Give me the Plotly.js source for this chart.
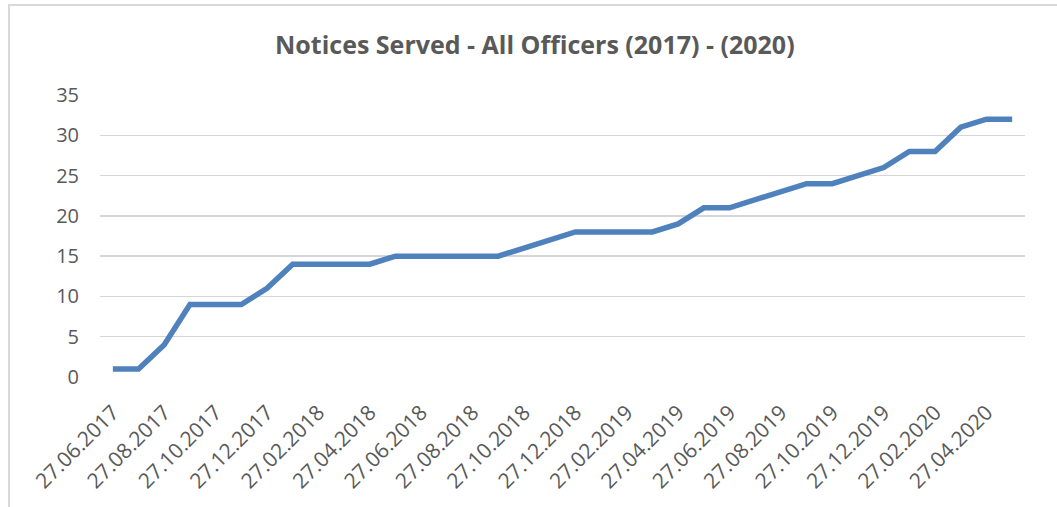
<!DOCTYPE html>
<html>
<head>
<meta charset="utf-8">
<script src="https://cdn.plot.ly/plotly-3.0.1.min.js"></script>
<style>
  html, body { margin: 0; padding: 0; width: 1057px; height: 507px; overflow: hidden; background: #fff; }
  #frame { position: absolute; left: 8px; top: 4px; width: 1200px; height: 700px;
           border-top: 2px solid #d9d9d9; border-left: 2px solid #d9d9d9; }
  #chart { position: absolute; left: 0; top: 0; width: 1057px; height: 507px; }
</style>
</head>
<body>
<div id="frame"></div>
<div id="chart"></div>
<script>
const categories = [
  "27.06.2017","27.07.2017","27.08.2017","27.09.2017","27.10.2017","27.11.2017",
  "27.12.2017","27.01.2018","27.02.2018","27.03.2018","27.04.2018","27.05.2018",
  "27.06.2018","27.07.2018","27.08.2018","27.09.2018","27.10.2018","27.11.2018",
  "27.12.2018","27.01.2019","27.02.2019","27.03.2019","27.04.2019","27.05.2019",
  "27.06.2019","27.07.2019","27.08.2019","27.09.2019","27.10.2019","27.11.2019",
  "27.12.2019","27.01.2020","27.02.2020","27.03.2020","27.04.2020","27.05.2020"
];
const noticesServed = [
  1, 1, 4, 9, 9, 9,
  11, 14, 14, 14, 14, 15,
  15, 15, 15, 15, 16, 17,
  18, 18, 18, 18, 19, 21,
  21, 22, 23, 24, 24, 25,
  26, 28, 28, 31, 32, 32
];
const tickLabels = [
  "27.06.2017","27.08.2017","27.10.2017","27.12.2017","27.02.2018","27.04.2018",
  "27.06.2018","27.08.2018","27.10.2018","27.12.2018","27.02.2019","27.04.2019",
  "27.06.2019","27.08.2019","27.10.2019","27.12.2019","27.02.2020","27.04.2020"
];
const yTicks = [0, 5, 10, 15, 20, 25, 30, 35];

const trace = {
  x: categories,
  y: noticesServed,
  type: "scatter",
  mode: "lines",
  line: { color: "#4f81bd", width: 5.5, shape: "linear" },
  hoverinfo: "x+y"
};

const layout = {
  width: 1057,
  height: 507,
  paper_bgcolor: "rgba(0,0,0,0)",
  plot_bgcolor: "rgba(0,0,0,0)",
  margin: { l: 100, r: 32, t: 95, b: 130 },
  showlegend: false,
  title: {
    text: "<b>Notices Served - All Officers (2017) - (2020)</b>",
    font: { family: "Open Sans, sans-serif", size: 25, color: "#595959" },
    x: 0.506, xanchor: "center",
    y: 0.91, yanchor: "middle"
  },
  xaxis: {
    type: "category",
    categoryorder: "array",
    categoryarray: categories,
    range: [-0.5, 35.5],
    tickmode: "array",
    tickvals: tickLabels,
    ticktext: tickLabels,
    tickangle: -45,
    ticks: "",
    showgrid: false,
    showline: false,
    zeroline: false,
    ticklabelstandoff: 18,
    tickfont: { family: "Open Sans, sans-serif", size: 21, color: "#595959" }
  },
  yaxis: {
    range: [0, 35],
    tickmode: "array",
    tickvals: yTicks,
    ticks: "",
    showgrid: true,
    gridcolor: "#d6d6d6",
    gridwidth: 1.5,
    showline: false,
    zeroline: false,
    ticklabelstandoff: 20,
    tickfont: { family: "Open Sans, sans-serif", size: 20, color: "#595959" }
  }
};

Plotly.newPlot("chart", [trace], layout, { displayModeBar: false, staticPlot: true });
</script>
</body>
</html>
